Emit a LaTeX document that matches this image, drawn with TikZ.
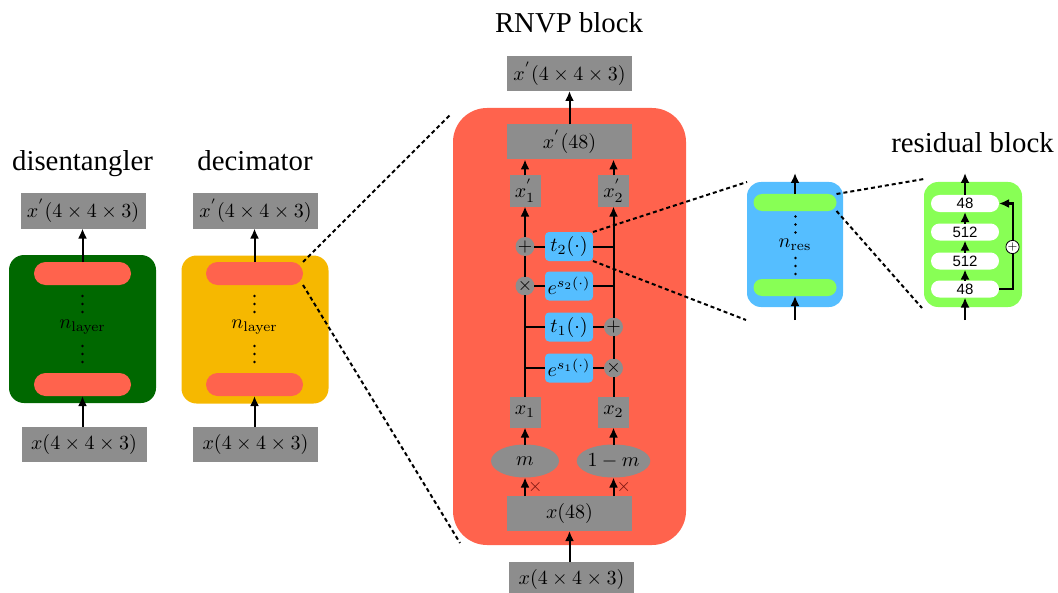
\documentclass[tikz,border=0pt]{standalone}
\usepackage[no-math]{fontspec}
\setmainfont{Liberation Serif}
\newfontfamily\numfont{Liberation Sans}
\usetikzlibrary{arrows.meta,shapes.geometric}

\definecolor{boxgray}{RGB}{141,141,141}
\definecolor{rnvpred}{RGB}{255,99,77}
\definecolor{disgreen}{RGB}{0,104,0}
\definecolor{decyellow}{RGB}{246,184,0}
\definecolor{resblue}{RGB}{85,190,255}
\definecolor{resgreen}{RGB}{136,255,85}
\definecolor{maskred}{RGB}{120,20,15}

\begin{document}
\begin{tikzpicture}
	[x=0.5pt, y=-0.5pt,
	every node/.style={inner sep=0pt, outer sep=0pt},
	title/.style={anchor=base, font=\fontsize{14.4}{17}\selectfont},
	graybox/.style={fill=boxgray, minimum width=62.5pt, minimum height=17.5pt},
	smallbox/.style={fill=boxgray, minimum width=15.5pt, minimum height=15.5pt},
	container/.style={minimum width=73.5pt, minimum height=74pt, rounded corners=7.5pt},
	layerpill/.style={fill=rnvpred, minimum width=48.5pt, minimum height=11.5pt, rounded corners=5.75pt},
	respill/.style={fill=resgreen, minimum width=41.5pt, minimum height=8.5pt, rounded corners=4.25pt},
	numpill/.style={fill=white, minimum width=34pt, minimum height=8.5pt, rounded corners=4.25pt, font=\numfont\fontsize{7.5}{8}\selectfont},
	fbox/.style={fill=resblue, minimum width=24pt, minimum height=14.5pt, rounded corners=2pt},
	op/.style={circle, fill=boxgray, minimum size=9pt, font=\small},
	mask/.style={ellipse, fill=boxgray, minimum width=34pt, minimum height=16.5pt},
	arr/.style={-{Latex[length=5pt,width=4.5pt]}, line width=1pt},
	lin/.style={line width=1pt},
	zoom/.style={line width=1pt, dash pattern=on 2pt off 1.5pt},
	]
	\useasboundingbox (0,0) rectangle (1058,593);

	% disentangler
	\node[title] (dtitle) at (82.5,170) {disentangler};
	\node[graybox] (dout) at (83,211) {$x^{'}(4\times4\times3)$};
	\node[container, fill=disgreen] (dbox) at (82.5,329) {};
	\node[layerpill] (dtop) at (82.5,273.5) {};
	\node[layerpill] (dbot) at (82.5,384.5) {};
	\node (dn) at (82.5,327) {$n_{\mathrm{layer}}$};
	\foreach \y in {296,304,312,346,354,362}
		\fill (82.5,\y) circle (0.65pt);
	\node[graybox] (din) at (84,444) {$x(4\times4\times3)$};
	\draw[arr] (din.north -| dbot) -- (dbot);
	\draw[arr] (dtop) -- (dtop |- dout.south);

	% decimator
	\node[title] (ytitle) at (255,170) {decimator};
	\node[graybox] (yout) at (255.5,211) {$x^{'}(4\times4\times3)$};
	\node[container, fill=decyellow] (ybox) at (255,329.5) {};
	\node[layerpill] (ytop) at (254.5,273.5) {};
	\node[layerpill] (ybot) at (254.5,384.5) {};
	\node (yn) at (254.5,327) {$n_{\mathrm{layer}}$};
	\foreach \y in {296,304,312,346,354,362}
		\fill (254.5,\y) circle (0.65pt);
	\node[graybox] (yin) at (255.5,444) {$x(4\times4\times3)$};
	\draw[arr] (yin.north -| ybot) -- (ybot);
	\draw[arr] (ytop) -- (ytop |- yout.south);

	% RNVP block
	\node[title] (rtitle) at (569,33) {RNVP block};
	\node[graybox] (rout) at (569.5,73.5) {$x^{'}(4\times4\times3)$};
	\node[container, fill=rnvpred, minimum width=116.5pt, minimum height=218.5pt, rounded corners=17pt] (rbox) at (569.5,326.5) {};
	\node[graybox] (xp) at (569.5,142) {$x^{'}(48)$};
	\node[smallbox] (x1p) at (525,191) {$x^{'}_1$};
	\node[smallbox] (x2p) at (613.5,191) {$x^{'}_2$};
	\node[fbox] (t2) at (569,246.5) {$t_2(\cdot)$};
	\node[fbox] (es2) at (569,286) {$e^{s_2(\cdot)}$};
	\node[fbox] (t1) at (569,327) {$t_1(\cdot)$};
	\node[fbox] (es1) at (569,368) {$e^{s_1(\cdot)}$};
	\node[op] (p2) at (525,246.5) {$+$};
	\node[op] (m2) at (525,286) {$\times$};
	\node[op] (p1) at (613.5,327) {$+$};
	\node[op] (m1) at (613.5,368) {$\times$};
	\node[smallbox] (x1) at (525,412) {$x_1$};
	\node[smallbox] (x2) at (613.5,412) {$x_2$};
	\node[mask] (m) at (525,461) {$m$};
	\node[mask] (om) at (613.5,461) {$1-m$};
	\node[graybox] (x48) at (569.5,513.5) {$x(48)$};
	\node[graybox] (rin) at (571.5,579.5) {$x(4\times4\times3)$};

	\draw[lin] (x1) -- (m2);
	\draw[lin] (m2) -- (p2);
	\draw[arr] (p2) -- (x1p);
	\draw[lin] (x2) -- (m1);
	\draw[lin] (m1) -- (p1);
	\draw[arr] (p1) -- (x2p);
	\draw[lin] (t2) -- (p2);
	\draw[lin] (t2.east) -- (t2.east -| x2);
	\draw[lin] (es2) -- (m2);
	\draw[lin] (es2.east) -- (es2.east -| x2);
	\draw[lin] (t1.west) -- (t1.west -| x1);
	\draw[lin] (t1) -- (p1);
	\draw[lin] (es1.west) -- (es1.west -| x1);
	\draw[lin] (es1) -- (m1);
	\draw[arr] (x48.north -| m) -- node[right=1.5pt, font=\small, text=maskred] (k1) {$\times$} (m);
	\draw[arr] (x48.north -| om) -- node[right=1.5pt, font=\small, text=maskred] (k2) {$\times$} (om);
	\draw[arr] (m) -- (x1);
	\draw[arr] (om) -- (x2);
	\draw[arr] (x1p) -- (x1p |- xp.south);
	\draw[arr] (x2p) -- (x2p |- xp.south);
	\draw[arr] (xp) -- (rout);
	\draw[arr] (rin.north -| x48) -- (x48);

	% n_res
	\node[container, fill=resblue, minimum width=48pt, minimum height=62.5pt, rounded corners=7pt] (bbox) at (795,244.5) {};
	\node[respill] (btop) at (795,202.5) {};
	\node[respill] (bbot) at (795,287.5) {};
	\node (bn) at (795,245) {$n_{\mathrm{res}}$};
	\foreach \y in {216.5,224.5,232.5,258,266,274}
		\fill (795.5,\y) circle (0.65pt);
	\coordinate (bo) at (795,173);
	\coordinate (bi) at (795,320);
	\draw[arr] (btop) -- (bo);
	\draw[arr] (bi) -- (bbot);

	% residual block
	\node[title] (gtitle) at (972.5,153) {residual block};
	\node[container, fill=resgreen, minimum width=49pt, minimum height=62.5pt, rounded corners=7pt] (gbox) at (973,244.5) {};
	\node[numpill] (r1) at (965,203.5) {48};
	\node[numpill] (r2) at (965,232) {512};
	\node[numpill] (r3) at (965,261) {512};
	\node[numpill] (r4) at (965,289) {48};
	\node[circle, fill=white, draw, line width=0.4pt, minimum size=6pt, font=\tiny] (sk) at (1012.5,247) {$+$};
	\coordinate (go) at (965,173);
	\coordinate (gi) at (965,320);
	\draw[arr] (r1) -- (go);
	\draw[arr] (r2) -- (r1);
	\draw[arr] (r3) -- (r2);
	\draw[arr] (r4) -- (r3);
	\draw[arr] (gi) -- (r4);
	\draw[lin] (r4.east) -| (sk);
	\draw[arr] (sk) |- (r1.east);

	% Zoom-Linien
	\coordinate (z1) at (450,115);
	\coordinate (z2) at (460,543);
	\coordinate (z3) at (746,320);
	\coordinate (z4) at (924,179);
	\coordinate (z5) at (922,308);
	\draw[zoom] (ytop.north east) -- (z1);
	\draw[zoom] (ytop.south east) -- (z2);
	\draw[zoom] (t2.north east) -- (bbox.north west);
	\draw[zoom] (t2.south east) -- (z3);
	\draw[zoom] (btop.north east) -- (z4);
	\draw[zoom] (btop.south east) -- (z5);
\end{tikzpicture}
\end{document}
